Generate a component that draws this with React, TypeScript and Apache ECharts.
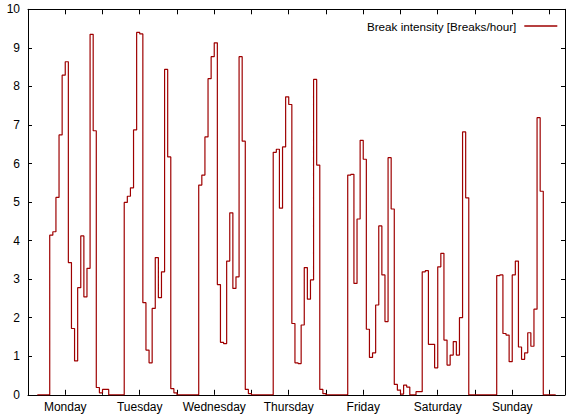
import React, { useEffect, useRef } from "react";
import * as echarts from "echarts";

const dayNames = ["Monday", "Tuesday", "Wednesday", "Thursday", "Friday", "Saturday", "Sunday"];

const monday = [0, 0, 0, 0, 0, 0, 0, 4.14, 4.23, 5.12, 6.74, 8.29, 8.64, 3.43, 1.72, 0.88, 2.78, 4.12, 2.54, 3.28, 9.35, 6.85, 0.19, 0.05];
const tuesday = [0.14, 0.14, 0, 0, 0, 0, 0, 4.99, 5.15, 5.37, 6.87, 9.4, 9.36, 2.39, 1.16, 0.83, 2.24, 3.56, 2.52, 3.19, 8.44, 6.17, 0.16, 0.05];
const wednesday = [0, 0, 0, 0, 0, 0, 0, 5.44, 5.7, 6.69, 8.2, 8.77, 9.13, 2.86, 1.36, 1.33, 3.47, 4.72, 2.76, 3.06, 8.77, 6.58, 0.14, 0.03];
const thursday = [0, 0, 0, 0, 0, 0, 0, 6.29, 6.37, 4.84, 6.43, 7.73, 7.53, 1.85, 0.83, 0.81, 1.81, 3.3, 2.48, 2.98, 8.18, 5.96, 0.14, 0.03];
const friday = [0, 0, 0, 0, 0, 0, 0, 5.7, 5.72, 2.89, 4.56, 6.6, 6.11, 1.7, 0.97, 1.09, 2.33, 4.38, 3.11, 1.9, 6.15, 4.82, 0.27, 0.12];
const saturday = [0.02, 0.25, 0.2, 0, 0, 0.08, 0.08, 3.19, 3.22, 1.31, 1.31, 0.7, 3.32, 3.67, 1.42, 0.77, 1.03, 1.38, 1.03, 2.0, 6.82, 5.11, 0, 0];
const sunday = [0, 0, 0, 0, 0, 0, 0, 3.09, 3.11, 1.59, 1.55, 0.86, 3.11, 3.47, 1.24, 0.92, 1.09, 1.61, 1.26, 2.22, 7.19, 5.28, 0, 0];

const weekValues = [monday, tuesday, wednesday, thursday, friday, saturday, sunday];
const firstHour = 3;
const lastHour = 170;
const xMax = 173;
const yTicks = [0, 1, 2, 3, 4, 5, 6, 7, 8, 9, 10];

const seriesName = "Break intensity [Breaks/hour]";
const lineColor = "#9e0000";
const font = "'Liberation Sans', Arial, Helvetica, sans-serif";

export default function App() {
  const ref = useRef<HTMLDivElement>(null);

  useEffect(() => {
    if (!ref.current) return;
    const chart = echarts.init(ref.current, null, { renderer: "svg" });
    const hourly: number[] = ([] as number[]).concat(...weekValues);
    const data: [number, number][] = [];
    for (let h = firstHour; h <= lastHour; h++) {
      data.push([h, h < hourly.length ? hourly[h] : 0]);
    }
    const xCommon = {
      type: "value" as const,
      min: 0,
      max: xMax,
      interval: 12,
      splitLine: { show: false },
      axisLine: { show: true, onZero: false, lineStyle: { color: "#000", width: 1 } },
      axisTick: { show: true, inside: true, length: 5, lineStyle: { color: "#000" } },
    };
    const yCommon = {
      type: "value" as const,
      min: yTicks[0],
      max: yTicks[yTicks.length - 1],
      interval: 1,
      splitLine: { show: false },
      axisLine: { show: true, onZero: false, lineStyle: { color: "#000", width: 1 } },
      axisTick: { show: true, inside: true, length: 4, lineStyle: { color: "#000" } },
    };
    chart.setOption({
      animation: false,
      backgroundColor: "#fff",
      textStyle: { fontFamily: font },
      grid: { left: 28, right: 0.5, top: 9.3, bottom: 21.2, containLabel: false },
      legend: {
        data: [seriesName],
        right: 10.7,
        top: 20,
        padding: 0,
        align: "right",
        icon: "rect",
        itemWidth: 33,
        itemHeight: 1.5,
        itemStyle: { color: lineColor },
        textStyle: { fontFamily: font, fontSize: 11.7, color: "#000", padding: [0, 3, 0, 0] },
      },
      xAxis: [
        {
          ...xCommon,
          position: "bottom",
          axisLabel: {
            show: true,
            margin: 6,
            fontSize: 12,
            color: "#000",
            fontFamily: font,
            formatter: (v: number) => (v % 24 === 12 && v < 168 ? dayNames[(v - 12) / 24] : ""),
          },
        },
        { ...xCommon, position: "top", axisLabel: { show: false } },
      ],
      yAxis: [
        {
          ...yCommon,
          position: "left",
          axisLabel: { show: true, margin: 8, fontSize: 12, color: "#000", fontFamily: font },
        },
        { ...yCommon, position: "right", axisLabel: { show: false } },
      ],
      series: [
        {
          name: seriesName,
          type: "line",
          step: "end",
          xAxisIndex: 0,
          yAxisIndex: 0,
          symbol: "none",
          data,
          lineStyle: { color: lineColor, width: 1.2 },
          itemStyle: { color: lineColor },
        },
      ],
    });
    return () => chart.dispose();
  }, []);

  return (
    <div
      ref={ref}
      style={{ position: "fixed", left: 0, top: 0, width: 568, height: 416, background: "#fff" }}
    />
  );
}
